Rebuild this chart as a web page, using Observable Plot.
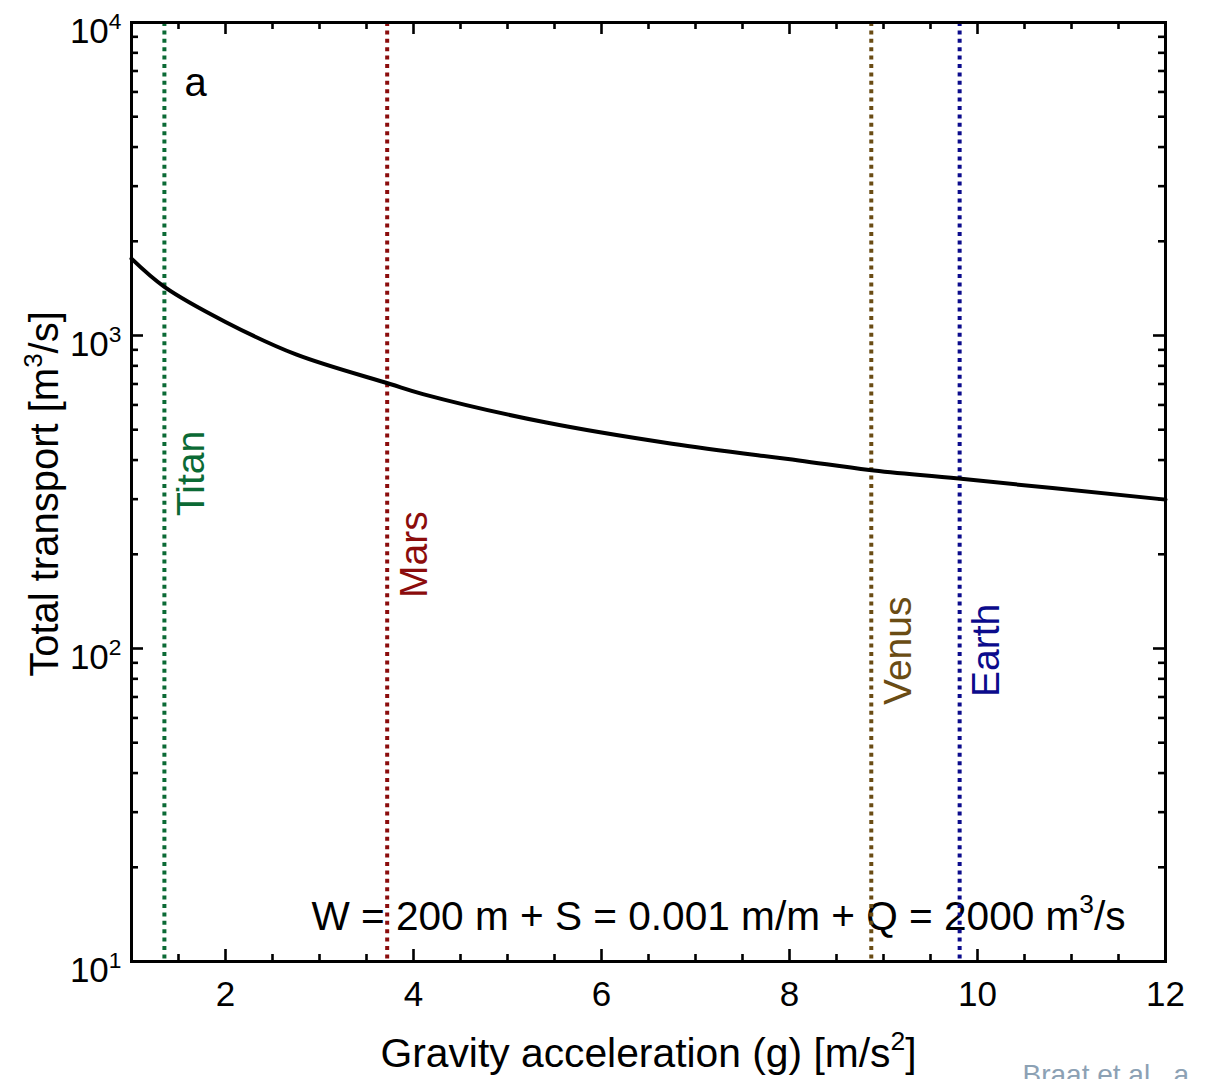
<!DOCTYPE html>
<html>
<head>
<meta charset="utf-8">
<script src="https://cdn.jsdelivr.net/npm/d3@7"></script>
<script src="https://cdn.jsdelivr.net/npm/@observablehq/plot@0.6"></script>
<style>
  html, body { margin: 0; padding: 0; background: #fff; overflow: hidden; }
  #chart { width: 1205px; height: 1079px; }
</style>
</head>
<body>
<div id="chart"></div>
<script>
// Total transport versus gravity acceleration
const gravity = [1.0, 1.35, 2.0, 2.75, 3.75, 4.1, 5.4, 6.75, 8.1, 8.85, 9.8, 12];
const transport = [1760, 1430, 1105, 870, 700, 650, 528, 451, 399, 372, 349, 299];

// Planetary surface gravities, label placement and colours
const planetNames = ["Titan", "Mars", "Venus", "Earth"];
const planetGravity = [1.35, 3.72, 8.87, 9.81];
const planetLabelY = [265, 145, 66, 70];
const planetColors = ["#0b6a35", "#8b0c0c", "#6a4c14", "#0b0b8c"];

// Tick values
const xLabelTicks = [2, 4, 6, 8, 10, 12];
const xMinorTicks = d3.range(1.5, 12, 0.5).filter(v => v % 2 !== 0);
const yMajorTicks = [10, 100, 1000, 10000];
const yMinorTicks = [1, 2, 3].flatMap(k => d3.range(2, 10).map(m => m * 10 ** k));

const annotation = "W = 200 m + S = 0.001 m/m + Q = 2000 m^3/s";
const xTitle = "Gravity acceleration (g) [m/s^2]";
const yTitle = "Total transport [m^3/s]";
const panelLetter = "a";
const credit = "Braat et al., a";

const curve = gravity.map((g, i) => ({g, q: transport[i]}));
const planets = planetNames.map((name, i) => ({
  name, g: planetGravity[i], labelY: planetLabelY[i], color: planetColors[i]
}));

const W = 1205, H = 1079;
const mL = 131, mR = 40, mT = 22, mB = 118;
const innerH = H - mT - mB;
const innerW = W - mL - mR;
const major = 12, minor = 7, tickW = 2.6;

const chart = Plot.plot({
  width: W,
  height: H,
  marginLeft: mL,
  marginRight: mR,
  marginTop: mT,
  marginBottom: mB,
  style: {
    fontFamily: '"Liberation Sans", Arial, Helvetica, sans-serif',
    color: "black",
    background: "white",
    overflow: "visible"
  },
  x: {domain: [1, 12]},
  y: {type: "log", domain: [10, 10000]},
  color: {type: "identity"},
  marks: [
    // inward ticks on all four sides
    Plot.tickX(xMinorTicks, {x: d => d, insetTop: innerH - minor, strokeWidth: tickW}),
    Plot.tickX(xMinorTicks, {x: d => d, insetBottom: innerH - minor, strokeWidth: tickW}),
    Plot.tickX(xLabelTicks, {x: d => d, insetTop: innerH - major, strokeWidth: tickW}),
    Plot.tickX(xLabelTicks, {x: d => d, insetBottom: innerH - major, strokeWidth: tickW}),
    Plot.tickY(yMinorTicks, {y: d => d, insetRight: innerW - minor, strokeWidth: tickW}),
    Plot.tickY(yMinorTicks, {y: d => d, insetLeft: innerW - minor, strokeWidth: tickW}),
    Plot.tickY(yMajorTicks, {y: d => d, insetRight: innerW - major, strokeWidth: tickW}),
    Plot.tickY(yMajorTicks, {y: d => d, insetLeft: innerW - major, strokeWidth: tickW}),

    // tick labels
    Plot.axisX({ticks: xLabelTicks, tickSize: 0, tickPadding: 20, fontSize: 35, label: null}),
    Plot.axisY({
      ticks: yMajorTicks, tickSize: 0, tickPadding: 10, fontSize: 35, label: null,
      lineAnchor: "bottom", dy: 20,
      tickFormat: d => `10^${Math.round(Math.log10(d))}`
    }),

    // axis titles
    Plot.text([xTitle], {text: d => d, frameAnchor: "bottom", textAnchor: "middle", lineAnchor: "bottom", dy: 105, fontSize: 40.8}),
    Plot.text([yTitle], {text: d => d, frameAnchor: "left", textAnchor: "middle", rotate: -90, dx: -86, dy: 2, fontSize: 40}),

    // panel letter and parameter note
    Plot.text([panelLetter], {text: d => d, frameAnchor: "top-left", textAnchor: "start", lineAnchor: "bottom", dx: 53, dy: 73, fontSize: 40}),
    Plot.text([annotation], {text: d => d, frameAnchor: "bottom", textAnchor: "middle", lineAnchor: "bottom", dx: 70, dy: -32, fontSize: 40.6}),

    // planets
    Plot.ruleX(planets, {x: "g", stroke: "color", strokeWidth: 4, strokeDasharray: "4 4.4"}),
    Plot.text(planets, {x: "g", y: "labelY", text: "name", fill: "color", rotate: -90, textAnchor: "start", dx: 27, fontSize: 39}),

    // transport curve
    Plot.line(curve, {x: "g", y: "q", curve: "catmull-rom", stroke: "black", strokeWidth: 4}),

    Plot.frame({stroke: "black", strokeWidth: 3}),

    // source credit
    Plot.text([credit], {text: d => d, frameAnchor: "bottom-left", textAnchor: "start", lineAnchor: "bottom", dx: 891, dy: 122, fontSize: 28, fill: "#8ca1b4"})
  ]
});

document.getElementById("chart").appendChild(chart);

// Turn "^n" markers into raised, smaller tspans
function superscripts(root) {
  root.querySelectorAll("text").forEach(t => {
    const s = t.textContent;
    if (!s.includes("^")) return;
    const fs = parseFloat(getComputedStyle(t).fontSize) || 16;
    const raise = 0.4 * fs;
    const parts = [];
    let buf = "";
    for (let i = 0; i < s.length; i++) {
      if (s[i] === "^" && i + 1 < s.length) {
        if (buf) parts.push({text: buf, sup: false});
        parts.push({text: s[i + 1], sup: true});
        buf = "";
        i++;
      } else buf += s[i];
    }
    if (buf) parts.push({text: buf, sup: false});
    t.textContent = "";
    let raised = false;
    for (const p of parts) {
      const ts = document.createElementNS("http://www.w3.org/2000/svg", "tspan");
      ts.textContent = p.text;
      if (p.sup) {
        ts.setAttribute("font-size", `${0.65 * fs}px`);
        ts.setAttribute("dy", `${-raise}`);
        raised = true;
      } else if (raised) {
        ts.setAttribute("dy", `${raise}`);
        raised = false;
      }
      t.appendChild(ts);
    }
  });
}
superscripts(chart);
</script>
</body>
</html>
